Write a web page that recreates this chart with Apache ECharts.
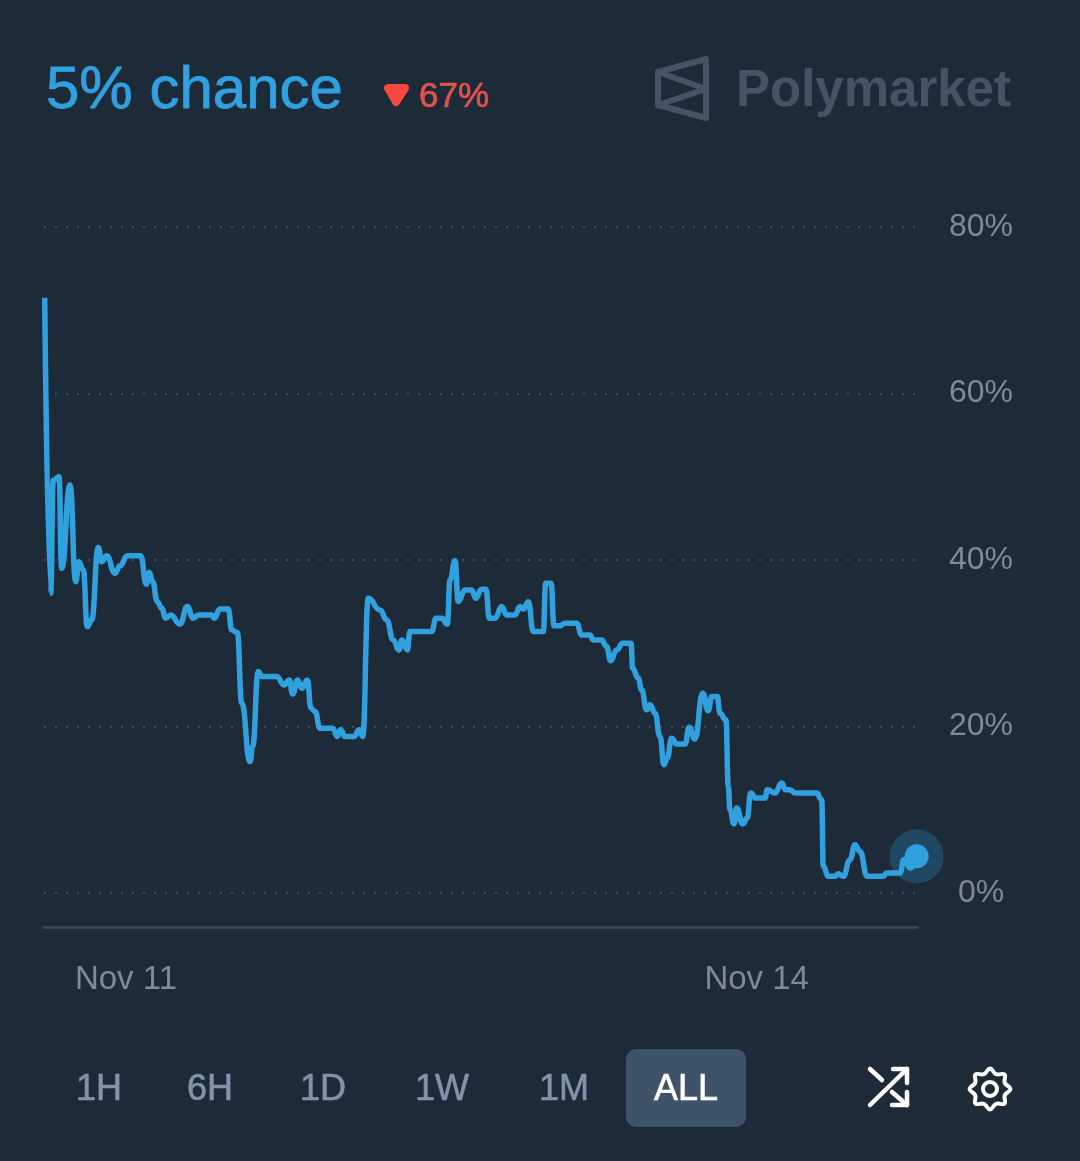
<!DOCTYPE html>
<html>
<head>
<meta charset="utf-8">
<style>html,body{margin:0;padding:0;background:#1d2b39}#chart{width:1080px;height:1161px}</style>
<script src="https://cdn.jsdelivr.net/npm/echarts@6/dist/echarts.min.js"></script>
</head>
<body>
<div id="chart"></div>
<script>
// hours since Nov 11 00:00
var hours = [-9.28,-8.60,-8.30,-7.65,-7.34,-6.39,-5.74,-5.37,-4.87,-4.42,-3.92,-3.16,-2.77,-2.20,-1.26,-0.68,0.15,1.68,2.32,2.66,
  3.05,3.57,4.08,4.53,5.10,6.16,7.00,7.68,8.25,9.78,10.08,10.73,11.68,12.07,12.71,13.21,14.16,14.46,15.10,15.49,
  17.20,18.04,18.64,19.03,19.60,20.06,20.70,21.12,21.58,22.15,23.29,23.60,24.12,24.51,25.00,26.03,26.63,27.02,27.66,29.00,
  29.76,30.51,31.16,31.51,32.11,32.42,34.90,35.39,36.04,36.68,36.99,37.56,37.93,38.70,39.46,39.92,40.60,41.10,41.47,42.12,
  42.89,43.46,44.41,44.98,45.35,45.93,46.50,47.64,47.91,48.52,48.86,49.54,50.11,51.45,52.02,52.97,53.34,54.30,54.87,55.33,
  56.02,56.70,57.65,57.84,58.48,58.87,59.44,59.82,60.39,60.96,61.42,61.79,62.29,62.87,63.81,64.30,64.95,65.83,66.47,66.86,
  67.50,67.81,68.49,68.76,68.95,69.41,69.71,70.40,70.92,71.31,71.92,72.95,73.21,74.09,74.85,75.31,75.80,76.37,78.85,79.42,
  79.60,80.17,80.94,81.31,81.88,82.65,83.22,83.79,84.62,86.44,86.83,88.36,88.81,89.58,90.26];
var chance = [71.5,36,49.6,50,39,49,37.4,39.8,38.8,32,32.8,41.5,39.8,40.5,38.4,39.3,40.5,40.5,37.1,38.5,
  37.4,35,34.2,33,33.4,32.3,34.4,33,33.4,33.4,33,34.1,34.1,31.6,31.3,22.8,15.8,17.6,26.6,26,
  26,25,25.6,23.9,25.6,24.6,25.6,22.2,21.8,19.8,19.8,19.8,18.8,19.6,18.8,18.8,19.6,18.8,35.4,34,
  32.8,30.4,29.2,30.4,29.2,31.4,31.4,33,33,32.3,37.6,39.9,35,36.4,36.4,35.4,36.5,36.5,33,33,
  34.4,33.4,33.4,34.4,34.1,35,31.4,31.4,37.2,37.2,32.1,32.1,32.4,32.4,31,31,30.4,30.4,29.6,27.9,
  29.2,30,30,27,25.8,24.4,22,22.6,21.6,18.8,15.4,16.2,18.6,17.9,17.9,19.9,18.5,24,21.9,23.6,
  23.6,21.6,20.8,12.8,10,8.3,10.2,8.3,9,12,11.4,11.4,12.4,12,13.2,12.4,12.4,12,12,11.2,
  3.2,2,2,2.3,2,4,5.8,5,2,2,2.4,2.4,4,3,4.4];
var xTickHours = [0, 72];
var xTickLabels = ['Nov 11', 'Nov 14'];
var rangeButtons = ['1H', '6H', '1D', '1W', '1M', 'ALL'];

var BLUE = '#31a0de';
var GREY = '#7f8a94';
var FONT = '"Liberation Sans"';
var points = hours.map(function (h, i) { return [h, chance[i]]; });
var lastPoint = points[points.length - 1];

var myChart = echarts.init(document.getElementById('chart'), null, { renderer: 'canvas' });

// thick: faux medium weight, the font only has regular and bold
function label(text, x, y, size, color, weight, align, thick) {
  var style = { text: text, fill: color, font: (weight || 400) + ' ' + size + 'px ' + FONT, textAlign: align || 'center', textVerticalAlign: 'middle' };
  if (thick) { style.stroke = color; style.lineWidth = thick; }
  return { type: 'text', x: x, y: y, style: style };
}
function stroke(pts, color, width) {
  return { type: 'polyline', shape: { points: pts }, style: { stroke: color, lineWidth: width, fill: null, lineCap: 'round', lineJoin: 'round' } };
}

// gear outline
var gearPts = [];
for (var g = 0; g < 16; g++) {
  var r = g % 2 ? 16 : 20.5, a = g * Math.PI / 8;
  gearPts.push([990 + r * Math.sin(a), 1089 - r * Math.cos(a)]);
}
var btnX = [99, 210, 323, 442, 564, 686];

var elements = [
  label('5% chance', 46, 91, 60, BLUE, 400, 'left', 0.8),
  { type: 'polygon', shape: { points: [[388, 88], [405, 88], [396, 102]] }, style: { fill: '#f8483f', stroke: '#f8483f', lineWidth: 8, lineJoin: 'round' } },
  label('67%', 419, 97, 35, '#e0524c', 400, 'left', 0.7),
  { type: 'polygon', shape: { points: [[658, 72], [706, 59], [706, 118], [658, 105]] }, style: { fill: null, stroke: '#465362', lineWidth: 6, lineJoin: 'round' } },
  stroke([[658, 72], [706, 89], [658, 105]], '#465362', 6),
  label('Polymarket', 736, 92, 51, '#465362', 700, 'left'),
  { type: 'rect', shape: { x: 626, y: 1049, width: 120, height: 78, r: 10 }, style: { fill: '#3f5368' } },
  stroke([[870, 1069], [882, 1080]], '#fff', 4.5),
  stroke([[870, 1105], [907, 1069]], '#fff', 4.5),
  stroke([[893, 1069], [907, 1069], [907, 1083]], '#fff', 4.5),
  stroke([[892, 1092], [907, 1105]], '#fff', 4.5),
  stroke([[892, 1105], [907, 1105], [907, 1092]], '#fff', 4.5),
  { type: 'polygon', shape: { points: gearPts, smooth: 0.45 }, style: { fill: null, stroke: '#fff', lineWidth: 4 } },
  { type: 'circle', shape: { cx: 990, cy: 1089, r: 7 }, style: { fill: null, stroke: '#fff', lineWidth: 4 } }
];
rangeButtons.forEach(function (b, i) {
  elements.push(label(b, btnX[i], 1090, 36, b === 'ALL' ? '#ffffff' : '#8094aa', 400, 'center', 0.6));
});

var option = {
  backgroundColor: '#1d2b39',
  animation: false,
  grid: { left: 44, right: 163, top: 227, bottom: 268 },
  xAxis: {
    type: 'value',
    min: -9.36,
    max: 90.3,
    offset: 34,
    splitLine: { show: false },
    axisTick: { show: false },
    axisLine: { show: true, onZero: false, lineStyle: { color: '#3d4a59', width: 2.5 } },
    axisLabel: {
      customValues: xTickHours,
      margin: 36,
      color: GREY,
      fontFamily: FONT,
      fontSize: 33,
      formatter: function (v) { return xTickLabels[xTickHours.indexOf(v)]; }
    }
  },
  yAxis: {
    type: 'value',
    position: 'right',
    min: 0,
    max: 80,
    interval: 20,
    axisLine: { show: false },
    axisTick: { show: false },
    splitLine: { show: true, lineStyle: { color: '#414d5a', width: 2, type: [2, 9] } },
    axisLabel: {
      align: 'center',
      margin: 64,
      color: GREY,
      fontFamily: FONT,
      fontSize: 32,
      padding: [0, 0, 8, 0],
      formatter: '{value}%'
    }
  },
  series: [
    {
      type: 'line',
      data: points,
      smooth: 0.5,
      smoothMonotone: 'x',
      showSymbol: false,
      clip: false,
      lineStyle: { color: BLUE, width: 5.5, join: 'round' }
    },
    {
      type: 'scatter',
      data: [lastPoint],
      symbolSize: 54,
      clip: false,
      silent: true,
      itemStyle: { color: BLUE, opacity: 0.25 }
    },
    {
      type: 'scatter',
      data: [lastPoint],
      symbolSize: 24,
      clip: false,
      silent: true,
      itemStyle: { color: BLUE, opacity: 1 }
    }
  ],
  graphic: { elements: elements }
};
myChart.setOption(option);
</script>
</body>
</html>
